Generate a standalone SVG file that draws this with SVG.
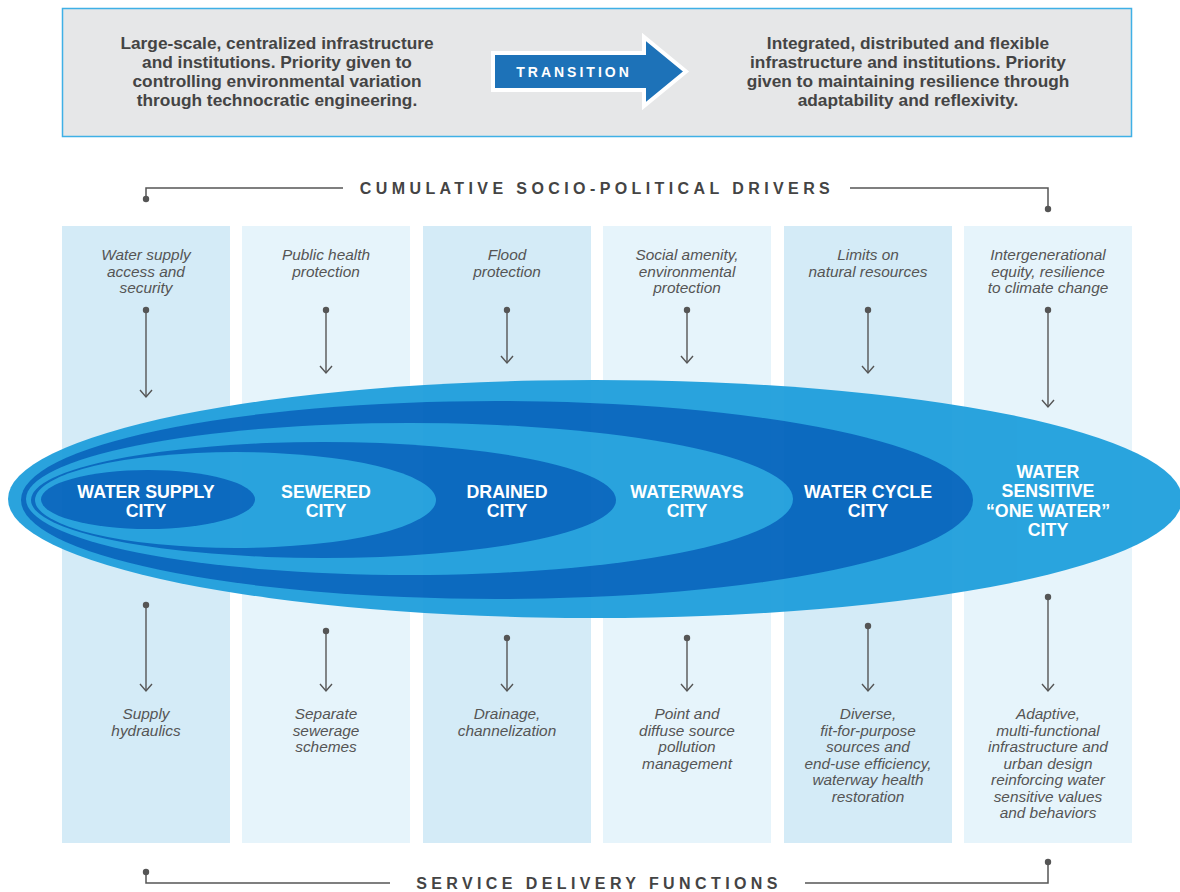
<svg xmlns="http://www.w3.org/2000/svg" width="1180" height="892" viewBox="0 0 1180 892">
<defs>
<style>
.hdr{font-family:"Liberation Sans",Arial,sans-serif;font-weight:bold;fill:#444;text-anchor:middle}
.box{font-family:"Liberation Sans",Arial,sans-serif;font-weight:bold;font-size:17.3px;fill:#444;text-anchor:middle}
.it{font-family:"Liberation Sans",Arial,sans-serif;font-style:italic;font-size:15.4px;fill:#555;text-anchor:middle}
.city{font-family:"Liberation Sans",Arial,sans-serif;font-weight:bold;font-size:17.8px;fill:#fff;text-anchor:middle}
.colA{fill:#d4ebf7}
.colB{fill:#e6f4fb}
.lt{fill:#1f9fdc}
.dk{fill:#0264bd}
.arr{stroke:#555;stroke-width:1.4;fill:none;marker-start:url(#dot);marker-end:url(#chev)}
.brk{stroke:#555;stroke-width:1.5;fill:none}
</style>
<marker id="dot" markerUnits="userSpaceOnUse" markerWidth="8" markerHeight="8" refX="0" refY="0" overflow="visible"><circle cx="0" cy="0" r="3.2" fill="#555"/></marker>
<marker id="chev" markerUnits="userSpaceOnUse" markerWidth="14" markerHeight="14" refX="0" refY="0" orient="auto" overflow="visible"><path d="M-7,-6 L0,0 L-7,6" fill="none" stroke="#555" stroke-width="1.4"/></marker>
</defs>
<rect width="1180" height="892" fill="#fff"/>

<g id="top-box">
<rect x="62.5" y="8.5" width="1069" height="128" fill="#e6e7e8" stroke="#3fb0e6" stroke-width="1.5"/>
<text class="box"><tspan x="277" y="49">Large-scale, centralized infrastructure</tspan><tspan x="277" y="68">and institutions. Priority given to</tspan><tspan x="277" y="87">controlling environmental variation</tspan><tspan x="277" y="106">through technocratic engineering.</tspan></text>
<text class="box"><tspan x="908" y="49">Integrated, distributed and flexible</tspan><tspan x="908" y="68">infrastructure and institutions. Priority</tspan><tspan x="908" y="87">given to maintaining resilience through</tspan><tspan x="908" y="106">adaptability and reflexivity.</tspan></text>
</g>

<g id="transition">
<polygon points="493,53 644,53 644,37 686,71.5 644,106 644,90 493,90" fill="#1d72b8" stroke="#fff" stroke-width="4" stroke-linejoin="miter"/>
<text class="hdr" x="574" y="77" font-size="14" style="fill:#fff" letter-spacing="3">TRANSITION</text>
</g>

<g id="drivers-header">
<text class="hdr" x="597" y="194" font-size="16" letter-spacing="4.4">CUMULATIVE SOCIO-POLITICAL DRIVERS</text>
</g>
<g id="service-header">
<text class="hdr" x="599" y="889" font-size="16" letter-spacing="4.4">SERVICE DELIVERY FUNCTIONS</text>
</g>

<g id="columns">
<rect class="colA" x="62" y="226" width="168" height="617"/>
<rect class="colB" x="242" y="226" width="168" height="617"/>
<rect class="colA" x="423" y="226" width="168" height="617"/>
<rect class="colB" x="603" y="226" width="168" height="617"/>
<rect class="colA" x="784" y="226" width="168" height="617"/>
<rect class="colB" x="964" y="226" width="168" height="617"/>
</g>

<g id="ellipses" opacity="0.95">
<ellipse id="water-sensitive-shape" class="lt" cx="595" cy="499" rx="587" ry="119"/>
<ellipse id="water-cycle-shape" class="dk" cx="497" cy="500" rx="476" ry="99"/>
<ellipse id="waterways-shape" class="lt" cx="409.5" cy="499" rx="383.5" ry="76"/>
<ellipse id="drained-shape" class="dk" cx="323.5" cy="500" rx="292.5" ry="58"/>
<ellipse id="sewered-shape" class="lt" cx="235.5" cy="500" rx="200.5" ry="48"/>
<ellipse id="water-supply-shape" class="dk" cx="148" cy="499.5" rx="107" ry="29.5"/>
</g>

<g id="city-labels">
<g id="water-supply-city"><text class="city"><tspan x="146" y="498">WATER SUPPLY</tspan><tspan x="146" y="517">CITY</tspan></text></g>
<g id="sewered-city"><text class="city"><tspan x="326" y="498">SEWERED</tspan><tspan x="326" y="517">CITY</tspan></text></g>
<g id="drained-city"><text class="city"><tspan x="507" y="498">DRAINED</tspan><tspan x="507" y="517">CITY</tspan></text></g>
<g id="waterways-city"><text class="city"><tspan x="687" y="498">WATERWAYS</tspan><tspan x="687" y="517">CITY</tspan></text></g>
<g id="water-cycle-city"><text class="city"><tspan x="868" y="498">WATER CYCLE</tspan><tspan x="868" y="517">CITY</tspan></text></g>
<g id="water-sensitive-city"><text class="city"><tspan x="1048" y="478">WATER</tspan><tspan x="1048" y="497">SENSITIVE</tspan><tspan x="1048" y="516.5">“ONE WATER”</tspan><tspan x="1048" y="536">CITY</tspan></text></g>
</g>

<g id="drivers">
<g id="driver-1"><text class="it"><tspan x="146" y="260">Water supply</tspan><tspan x="146" y="276.5">access and</tspan><tspan x="146" y="293">security</tspan></text></g>
<g id="driver-2"><text class="it"><tspan x="326" y="260">Public health</tspan><tspan x="326" y="276.5">protection</tspan></text></g>
<g id="driver-3"><text class="it"><tspan x="507" y="260">Flood</tspan><tspan x="507" y="276.5">protection</tspan></text></g>
<g id="driver-4"><text class="it"><tspan x="687" y="260">Social amenity,</tspan><tspan x="687" y="276.5">environmental</tspan><tspan x="687" y="293">protection</tspan></text></g>
<g id="driver-5"><text class="it"><tspan x="868" y="260">Limits on</tspan><tspan x="868" y="276.5">natural resources</tspan></text></g>
<g id="driver-6"><text class="it"><tspan x="1048" y="260">Intergenerational</tspan><tspan x="1048" y="276.5">equity, resilience</tspan><tspan x="1048" y="293">to climate change</tspan></text></g>
</g>

<g id="functions">
<g id="function-1"><text class="it"><tspan x="146" y="719">Supply</tspan><tspan x="146" y="735.5">hydraulics</tspan></text></g>
<g id="function-2"><text class="it"><tspan x="326" y="719">Separate</tspan><tspan x="326" y="735.5">sewerage</tspan><tspan x="326" y="752">schemes</tspan></text></g>
<g id="function-3"><text class="it"><tspan x="507" y="719">Drainage,</tspan><tspan x="507" y="735.5">channelization</tspan></text></g>
<g id="function-4"><text class="it"><tspan x="687" y="719">Point and</tspan><tspan x="687" y="735.5">diffuse source</tspan><tspan x="687" y="752">pollution</tspan><tspan x="687" y="768.5">management</tspan></text></g>
<g id="function-5"><text class="it"><tspan x="868" y="719">Diverse,</tspan><tspan x="868" y="735.5">fit-for-purpose</tspan><tspan x="868" y="752">sources and</tspan><tspan x="868" y="768.5">end-use efficiency,</tspan><tspan x="868" y="785">waterway health</tspan><tspan x="868" y="801.5">restoration</tspan></text></g>
<g id="function-6"><text class="it"><tspan x="1048" y="719">Adaptive,</tspan><tspan x="1048" y="735.5">multi-functional</tspan><tspan x="1048" y="752">infrastructure and</tspan><tspan x="1048" y="768.5">urban design</tspan><tspan x="1048" y="785">reinforcing water</tspan><tspan x="1048" y="801.5">sensitive values</tspan><tspan x="1048" y="818">and behaviors</tspan></text></g>
</g>

<g id="connectors">
<path class="arr" d="M146,310 L146,397"/>
<path class="arr" d="M326,310 L326,373"/>
<path class="arr" d="M507,310 L507,363"/>
<path class="arr" d="M687,310 L687,363"/>
<path class="arr" d="M868,310 L868,373"/>
<path class="arr" d="M1048,310 L1048,407"/>
<path class="arr" d="M146,605 L146,691"/>
<path class="arr" d="M326,631 L326,691"/>
<path class="arr" d="M507,638 L507,691"/>
<path class="arr" d="M687,638 L687,691"/>
<path class="arr" d="M868,626 L868,691"/>
<path class="arr" d="M1048,597 L1048,691"/>
<path class="brk" d="M146,199 L146,188 L343,188"/>
<path class="brk" d="M850,188 L1048,188 L1048,209"/>
<path class="brk" d="M146,872 L146,883 L390,883"/>
<path class="brk" d="M805,883 L1048,883 L1048,862"/>
<circle cx="146" cy="199" r="3.2" fill="#555"/>
<circle cx="1048" cy="209" r="3.2" fill="#555"/>
<circle cx="146" cy="872" r="3.2" fill="#555"/>
<circle cx="1048" cy="862" r="3.2" fill="#555"/>
</g>
</svg>
